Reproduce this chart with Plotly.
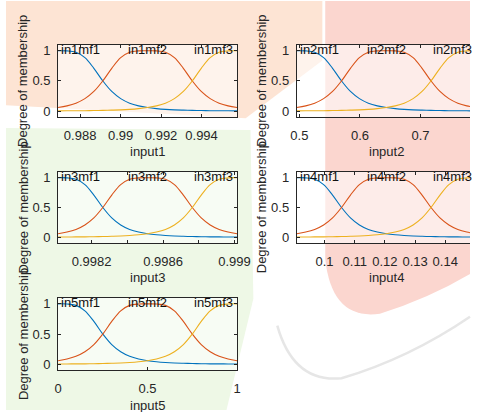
import plotly.graph_objects as go

# ---------------- data ----------------
input_names = ["input1", "input2", "input3", "input4", "input5"]
x_lo = [0.98691, 0.4957, 0.998012, 0.09079, 0.0]
x_hi = [0.995753, 0.7911, 0.999014, 0.1501, 1.0]

tick_vals = [
    [0.988, 0.990, 0.992, 0.994],
    [0.5, 0.6, 0.7],
    [0.9982, 0.9984, 0.9986, 0.9988, 0.9990],
    [0.10, 0.11, 0.12, 0.13, 0.14],
    [0.0, 0.5, 1.0],
]
tick_text = [
    ["0.988", "0.99", "0.992", "0.994"],
    ["0.5", "0.6", "0.7"],
    ["0.9982", "", "0.9986", "", "0.999"],
    ["0.1", "0.11", "0.12", "0.13", "0.14"],
    ["0", "0.5", "1"],
]

# normalized positions across each input range
grid = [0.00, 0.05, 0.10, 0.15, 0.20, 0.25, 0.30, 0.35, 0.40, 0.45, 0.50,
        0.55, 0.60, 0.65, 0.70, 0.75, 0.80, 0.85, 0.90, 0.95, 1.00]
mf1_y = [1.000, 0.998, 0.975, 0.885, 0.709, 0.500, 0.325, 0.207, 0.132, 0.087, 0.059,
         0.041, 0.029, 0.021, 0.016, 0.012, 0.009, 0.007, 0.006, 0.005, 0.004]
mf2_y = [0.059, 0.087, 0.132, 0.207, 0.325, 0.500, 0.709, 0.885, 0.975, 0.998, 1.000,
         0.998, 0.975, 0.885, 0.709, 0.500, 0.325, 0.207, 0.132, 0.087, 0.059]
mf3_y = [0.004, 0.005, 0.006, 0.007, 0.009, 0.012, 0.016, 0.021, 0.029, 0.041, 0.059,
         0.087, 0.132, 0.207, 0.325, 0.500, 0.709, 0.885, 0.975, 0.998, 1.000]
mf_colors = ["#0072BD", "#D95319", "#EDB120"]

y_tick_vals = [0, 0.5, 1]
y_tick_text = ["0", "0.5", "1"]

# ---------------- layout geometry (pixels) ----------------
W, H = 484, 412
col_px = [(54.3, 241.0), (303.3, 490.0)]   # right column runs past the window edge
row_px = [(44.0, 117.0), (172.0, 244.0), (299.0, 372.0)]
cells = [(0, 0), (0, 1), (1, 0), (1, 1), (2, 0)]

def px_x(p):
    return p / W

def px_y(p):
    return 1 - p / H

def P(x, y):
    return f"{px_x(x):.4f},{px_y(y):.4f}"

FONT = "Liberation Sans, Arial, sans-serif"
TXT = "#262626"

# faint watermark-like background
shapes = [
    dict(type="path", xref="paper", yref="paper", layer="below", line=dict(width=0),
         fillcolor="#fde4d4",
         path=f"M {P(0,0)} L {P(330,0)} L {P(330,60)} L {P(250,118)} L {P(0,105)} Z"),
    dict(type="path", xref="paper", yref="paper", layer="below", line=dict(width=0),
         fillcolor="#eef8e6",
         path=f"M {P(0,128)} L {P(255,130)} L {P(258,300)} L {P(230,412)} L {P(0,412)} Z"),
    dict(type="path", xref="paper", yref="paper", layer="below", line=dict(width=0),
         fillcolor="#fbd6cf",
         path=f"M {P(333,0)} L {P(484,0)} L {P(484,275)} Q {P(440,300)} {P(390,315)} "
              f"Q {P(340,322)} {P(333,260)} Z"),
    dict(type="path", xref="paper", yref="paper", layer="below",
         line=dict(width=2.5, color="#e6e6e6"),
         path=f"M {P(283,327)} Q {P(300,385)} {P(350,380)} Q {P(420,360)} {P(484,318)}"),
]

fig = go.Figure()
annotations = []
layout_axes = {}

for i, name in enumerate(input_names):
    r, c = cells[i]
    xa = "x" if i == 0 else f"x{i+1}"
    ya = "y" if i == 0 else f"y{i+1}"
    xkey = "xaxis" if i == 0 else f"xaxis{i+1}"
    ykey = "yaxis" if i == 0 else f"yaxis{i+1}"
    lo, hi = x_lo[i], x_hi[i]
    (x0, x1), (y0, y1) = col_px[c], row_px[r]
    vis_x1 = min(x1, W)
    view_hi = lo + (hi - lo) * (vis_x1 - x0) / (x1 - x0)
    hidden_px = x1 - vis_x1
    xs = [lo + g * (hi - lo) for g in grid]
    for ys, col in zip([mf1_y, mf2_y, mf3_y], mf_colors):
        fig.add_trace(go.Scatter(
            x=xs, y=ys, mode="lines", xaxis=xa, yaxis=ya,
            line=dict(color=col, width=1.1, shape="spline", smoothing=1.0),
            showlegend=False, hoverinfo="skip"))
    common = dict(showline=True, linecolor=TXT, linewidth=1,
                  ticks="inside", ticklen=3, tickcolor=TXT, tickwidth=1,
                  showgrid=False, zeroline=False, fixedrange=True,
                  tickfont=dict(family=FONT, size=13, color=TXT))
    layout_axes[xkey] = dict(domain=[px_x(x0), px_x(vis_x1)], range=[lo, view_hi],
                             anchor=ya, tickmode="array", tickvals=tick_vals[i],
                             ticktext=tick_text[i], ticklabelstandoff=6,
                             mirror="ticks", **common)
    layout_axes[ykey] = dict(domain=[px_y(y1), px_y(y0)], range=[-0.1, 1.1],
                             anchor=xa, tickmode="array", tickvals=y_tick_vals,
                             ticktext=y_tick_text, ticklabelstandoff=4,
                             mirror="ticks" if x1 <= W else False, **common)
    # lighter (mostly white) axes background over the watermark
    shapes.append(dict(type="rect", xref="paper", yref="paper", layer="below",
                       x0=px_x(x0), x1=px_x(vis_x1), y0=px_y(y1), y1=px_y(y0),
                       line=dict(width=0), fillcolor="rgba(255,255,255,0.55)"))
    # mf labels
    k = i + 1
    for j, (xv, anc, sh) in enumerate([(lo, "left", 1), ((lo + hi) / 2, "center", 0),
                                       (view_hi, "right", hidden_px - 2)]):
        annotations.append(dict(
            x=xv, y=1, xref=xa, yref=ya, text=f"in{k}mf{j+1}", showarrow=False,
            xanchor=anc, yanchor="middle", xshift=sh, yshift=1,
            font=dict(family=FONT, size=13, color="#111111")))
    # x title
    annotations.append(dict(
        x=px_x((x0 + x1) / 2), y=px_y(y1 + 35), xref="paper", yref="paper",
        text=name, showarrow=False, xanchor="center", yanchor="middle",
        font=dict(family=FONT, size=13, color=TXT)))
    # y title
    annotations.append(dict(
        x=px_x(x0 - 36.5), y=px_y((y0 + y1) / 2), xref="paper", yref="paper",
        text="Degree of membership", showarrow=False, textangle=-90,
        xanchor="center", yanchor="middle",
        font=dict(family=FONT, size=13, color=TXT)))

fig.update_layout(
    width=W, height=H, margin=dict(l=0, r=0, t=0, b=0),
    paper_bgcolor="rgba(0,0,0,0)", plot_bgcolor="rgba(0,0,0,0)",
    annotations=annotations, shapes=shapes, showlegend=False,
    **layout_axes)

fig.write_html("out.html", config={"displayModeBar": False})
